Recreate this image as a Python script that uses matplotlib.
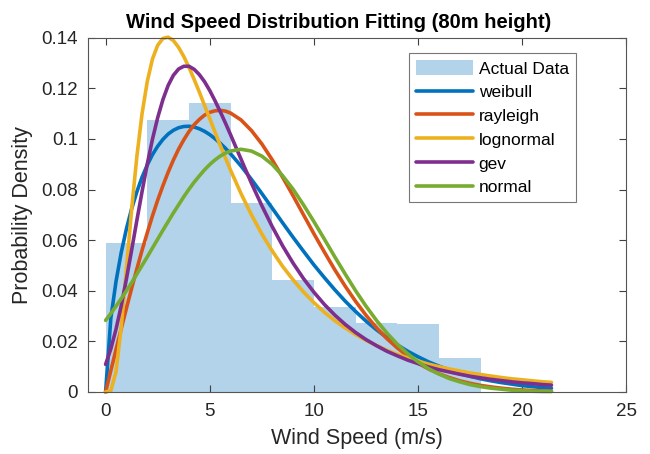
import matplotlib
matplotlib.use("Agg")
import matplotlib.pyplot as plt

plt.rcParams['font.family'] = ['Liberation Sans', 'DejaVu Sans']

# histogram of measured wind speed (normalised as pdf)
bin_edges = [0, 2, 4, 6, 8, 10, 12, 14, 16, 18]
bin_density = [0.0588, 0.1075, 0.1140, 0.0747, 0.0443, 0.0335, 0.0274, 0.0268, 0.0134]

# fitted pdf curves
speed = [0, 0.25, 0.5, 0.75, 1, 1.25, 1.5, 1.75, 2, 2.25, 2.5, 2.75, 3, 3.25,
         3.5, 3.75, 4, 4.25, 4.5, 4.75, 5, 5.25, 5.5, 5.75, 6, 6.5, 7, 7.5,
         8, 8.5, 9, 9.5, 10, 10.5, 11, 11.5, 12, 12.5, 13, 13.5, 14, 14.5,
         15, 15.5, 16, 16.5, 17, 17.5, 18, 18.5, 19, 19.5, 20, 20.5, 21, 21.4]

weibull = [0, 0.0291, 0.0437, 0.0551, 0.0645, 0.0724, 0.0791, 0.0849, 0.0897, 0.0938,
           0.0971, 0.0998, 0.1019, 0.1034, 0.1044, 0.1049, 0.1050, 0.1047, 0.1040, 0.1030,
           0.1017, 0.1001, 0.0983, 0.0963, 0.0941, 0.0893, 0.0840, 0.0784, 0.0726, 0.0668,
           0.0611, 0.0556, 0.0502, 0.0452, 0.0404, 0.0359, 0.0318, 0.0280, 0.0246, 0.0215,
           0.0186, 0.0161, 0.0139, 0.0119, 0.0102, 0.0087, 0.0074, 0.0062, 0.0052, 0.0044,
           0.0037, 0.0031, 0.0025, 0.0021, 0.0017, 0.0015]

rayleigh = [0, 0.0084, 0.0168, 0.0250, 0.0331, 0.0410, 0.0486, 0.0560, 0.0629, 0.0696,
            0.0758, 0.0815, 0.0868, 0.0916, 0.0959, 0.0996, 0.1029, 0.1056, 0.1077, 0.1094,
            0.1105, 0.1111, 0.1113, 0.1110, 0.1102, 0.1075, 0.1033, 0.0980, 0.0917, 0.0848,
            0.0775, 0.0700, 0.0625, 0.0553, 0.0483, 0.0418, 0.0358, 0.0303, 0.0254, 0.0211,
            0.0174, 0.0142, 0.0114, 0.0091, 0.0072, 0.0057, 0.0044, 0.0034, 0.0026, 0.0020,
            0.0015, 0.0011, 0.0008, 0.0006, 0.0004, 0.0003]

lognormal = [0, 0.0005, 0.0080, 0.0256, 0.0487, 0.0722, 0.0930, 0.1100, 0.1227, 0.1316,
             0.1370, 0.1397, 0.1402, 0.1389, 0.1362, 0.1326, 0.1283, 0.1235, 0.1185, 0.1132,
             0.1080, 0.1027, 0.0975, 0.0925, 0.0876, 0.0784, 0.0700, 0.0624, 0.0557, 0.0496,
             0.0443, 0.0395, 0.0353, 0.0315, 0.0282, 0.0253, 0.0227, 0.0204, 0.0184, 0.0165,
             0.0149, 0.0135, 0.0122, 0.0110, 0.0100, 0.0091, 0.0083, 0.0075, 0.0069, 0.0063,
             0.0057, 0.0052, 0.0048, 0.0044, 0.0040, 0.0038]

gev = [0.0109, 0.0170, 0.0248, 0.0341, 0.0447, 0.0561, 0.0678, 0.0792, 0.0901, 0.0999,
       0.1084, 0.1155, 0.1211, 0.1251, 0.1276, 0.1287, 0.1287, 0.1275, 0.1254, 0.1226,
       0.1191, 0.1151, 0.1108, 0.1063, 0.1016, 0.0920, 0.0825, 0.0736, 0.0653, 0.0577,
       0.0509, 0.0448, 0.0394, 0.0346, 0.0304, 0.0267, 0.0235, 0.0207, 0.0183, 0.0161,
       0.0143, 0.0126, 0.0112, 0.0099, 0.0088, 0.0079, 0.0070, 0.0062, 0.0056, 0.0050,
       0.0045, 0.0040, 0.0036, 0.0033, 0.0029, 0.0027]

normal = [0.0283, 0.0310, 0.0339, 0.0369, 0.0400, 0.0432, 0.0466, 0.0500, 0.0534, 0.0569,
          0.0604, 0.0639, 0.0673, 0.0707, 0.0739, 0.0771, 0.0801, 0.0829, 0.0854, 0.0878,
          0.0899, 0.0917, 0.0932, 0.0944, 0.0952, 0.0959, 0.0952, 0.0932, 0.0899, 0.0854,
          0.0801, 0.0739, 0.0673, 0.0604, 0.0534, 0.0466, 0.0400, 0.0339, 0.0283, 0.0233,
          0.0189, 0.0151, 0.0119, 0.0092, 0.0071, 0.0053, 0.0040, 0.0029, 0.0021, 0.0015,
          0.0011, 0.0007, 0.0005, 0.0003, 0.0002, 0.0002]

curve_names = ['weibull', 'rayleigh', 'lognormal', 'gev', 'normal']
curve_values = [weibull, rayleigh, lognormal, gev, normal]
colors = ['#0072BD', '#D95319', '#EDB120', '#7E2F8E', '#77AC30']

fig = plt.figure(figsize=(6.5, 4.54), dpi=100)
ax = fig.add_axes([0.1349, 0.1366, 0.8289, 0.7804])

bars = ax.bar(bin_edges[:-1], bin_density, width=2, align='edge', color='#b2d3ea',
              edgecolor='none', label='Actual Data')
handles = [bars]
for name, vals, c in zip(curve_names, curve_values, colors):
    ln, = ax.plot(speed, vals, color=c, lw=2.6, label=name, clip_on=False,
                  solid_capstyle='round')
    handles.append(ln)

ax.set_xlim(-0.86, 25)
ax.set_ylim(0, 0.14)
ax.set_xticks([0, 5, 10, 15, 20, 25])
ax.set_yticks([0, 0.02, 0.04, 0.06, 0.08, 0.1, 0.12, 0.14])
ax.set_yticklabels(['0', '0.02', '0.04', '0.06', '0.08', '0.1', '0.12', '0.14'])
ax.tick_params(direction='in', top=True, right=True, length=5, width=0.8,
               color='#404040', labelsize=13.5, labelcolor='#262626')
ax.tick_params(axis='x', pad=8)
ax.tick_params(axis='y', pad=7)
for sp in ax.spines.values():
    sp.set_color('#555555')
    sp.set_linewidth(0.8)

ax.set_xlabel('Wind Speed (m/s)', fontsize=15.5, color='#262626', labelpad=6)
ax.set_ylabel('Probability Density', fontsize=15.5, color='#262626', labelpad=6)
ax.set_title('Wind Speed Distribution Fitting (80m height)', fontsize=14.5,
             fontweight='bold', x=0.465, pad=7)

leg = ax.legend(handles=handles, loc='upper right', bbox_to_anchor=(0.9057, 0.956),
                borderaxespad=0, fontsize=12.5, frameon=True, fancybox=False,
                framealpha=1, edgecolor='#777777', handlelength=3.3,
                handleheight=0.95, handletextpad=0.3, labelspacing=0.42,
                borderpad=0.4)
leg.get_frame().set_linewidth(0.8)

fig.savefig('out.png', dpi=100)
